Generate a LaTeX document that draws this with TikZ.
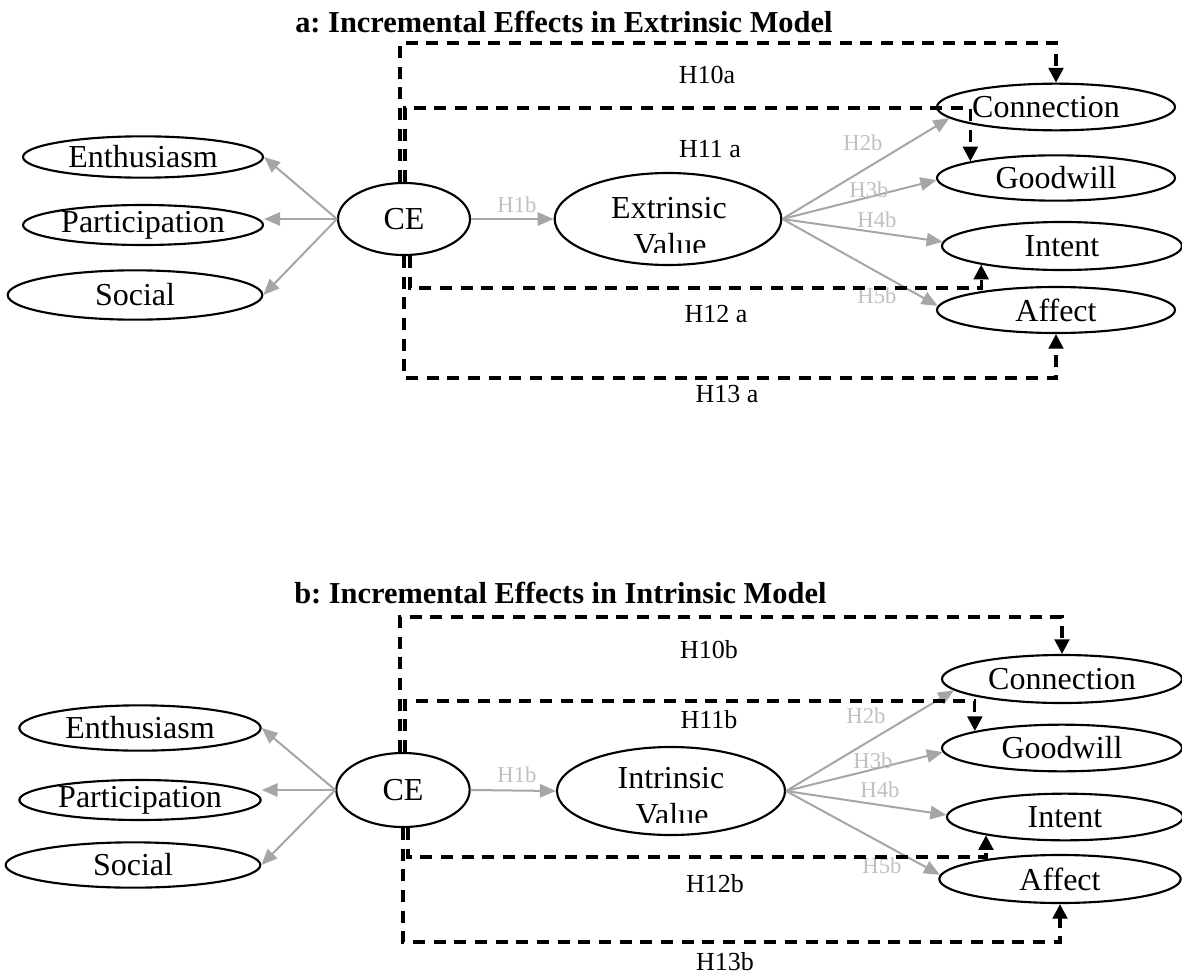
\documentclass[tikz,border=0pt]{standalone}
\usepackage{fontspec}
\setmainfont{Liberation Serif}
\usetikzlibrary{shapes.geometric,arrows.meta}
\frenchspacing

\definecolor{arrgray}{RGB}{166,166,166}
\definecolor{labgray}{RGB}{192,192,192}

\tikzset{
  ell/.style={draw, ellipse, line width=1.6pt, inner sep=0pt,
              font=\fontsize{24}{28}\selectfont},
  grayarr/.style={draw=arrgray, line width=1.5pt,
                  -{Triangle[length=12pt,width=10pt]}},
  hyp/.style={draw, line width=2.3pt, dash pattern=on 9pt off 6.5pt,
              -{Triangle[length=11pt,width=11pt]}},
  hlab/.style={anchor=base, inner sep=0pt, font=\fontsize{19.5}{22}\selectfont},
  glab/.style={anchor=base, inner sep=0pt, text=labgray,
               font=\fontsize{17}{20}\selectfont},
  vtext/.style={anchor=base, inner sep=0pt, font=\fontsize{24}{28}\selectfont},
  ttl/.style={anchor=base west, inner sep=0pt,
              font=\fontsize{22.8}{26}\selectfont\bfseries},
}

\begin{document}
\begin{tikzpicture}[x=0.75pt, y=-0.75pt]
\useasboundingbox (0,0) rectangle (1182,978);

% ---------------- panel a: extrinsic model ----------------
\node[ttl] (titleA) at (295,32) {a: Incremental Effects in Extrinsic Model};

\node[ell, minimum width=180pt, minimum height=31pt] (enA) at (143,157) {Enthusiasm};
\node[ell, minimum width=180pt, minimum height=30pt] (ptA) at (143,225) {Participation};
\node[ell, minimum width=191pt, minimum height=37pt] (soA) at (135,295) {Social};
\node[ell, minimum width=99pt, minimum height=54pt] (ceA) at (404,219) {CE};
\node[ell, minimum width=170pt, minimum height=69pt] (exA) at (668,219) {};
\node[vtext] (exA1) at (669,218) {Extrinsic};
\begin{scope}
  \clip (560,225) rectangle (780,252);
  \node[vtext] (exA2) at (670,255) {Value};
\end{scope}

\node[ell, minimum width=178.5pt, minimum height=35pt] (conA) at (1056,107) {\kern-15pt Connection};
\node[ell, minimum width=178.5pt, minimum height=34pt] (goodA) at (1056,178) {Goodwill};
\node[ell, minimum width=180pt, minimum height=36pt] (intA) at (1062,246) {Intent};
\node[ell, minimum width=178.5pt, minimum height=34.5pt] (affA) at (1056,310) {Affect};

% indicators and structural paths
\draw[grayarr] (ceA.west) -- (enA.east);
\draw[grayarr] (ceA.west) -- (ceA.west -| ptA.east);
\draw[grayarr] (ceA.west) -- (soA.east);
\draw[grayarr] (ceA.east) -- (exA.west);
\draw[grayarr] (exA.east) -- (conA.186);
\draw[grayarr] (exA.east) -- (goodA.181);
\draw[grayarr] (exA.east) -- (intA.178);
\draw[grayarr] (exA.east) -- (affA.178);

\node[glab] (h1bA) at (517,212) {H1b};
\node[glab] (h2bA) at (863,150) {H2b};
\node[glab] (h3bA) at (869,197) {H3b};
\node[glab] (h4bA) at (877,227) {H4b};
\node[glab] (h5bA) at (877,303) {H5b};

% incremental (direct) effects
\coordinate (t10a) at (400,43);
\coordinate (t11a) at (405,108);
\coordinate (t12a) at (410,288);
\coordinate (t13a) at (404,378);
\draw[hyp] (t10a |- ceA.north) -- (t10a) -| (conA.north);
\draw[hyp] (t11a |- ceA.north) -- (t11a) -| (goodA.169);
\draw[hyp] (t12a |- ceA.south) -- (t12a) -| (intA.193);
\draw[hyp] (t13a |- ceA.south) -- (t13a) -| (affA.south);

\node[hlab] (h10a) at (707,83) {H10a};
\node[hlab] (h11a) at (710,157) {H11 a};
\node[hlab] (h12a) at (716,322) {H12 a};
\node[hlab] (h13a) at (727,402) {H13 a};

% ---------------- panel b: intrinsic model ----------------
\node[ttl] (titleB) at (294,603) {b: Incremental Effects in Intrinsic Model};

\node[ell, minimum width=181pt, minimum height=34pt] (enB) at (140,728) {Enthusiasm};
\node[ell, minimum width=181pt, minimum height=30pt] (ptB) at (140,800) {Participation};
\node[ell, minimum width=191pt, minimum height=34pt] (soB) at (133,865) {Social};
\node[ell, minimum width=100pt, minimum height=55.5pt] (ceB) at (403,790) {CE};
\node[ell, minimum width=171pt, minimum height=66pt] (inB) at (671,791) {};
\node[vtext] (inB1) at (671,788) {Intrinsic};
\begin{scope}
  \clip (560,795) rectangle (785,822);
  \node[vtext] (inB2) at (672,825) {Value};
\end{scope}

\node[ell, minimum width=180pt, minimum height=36pt] (conB) at (1062,679) {Connection};
\node[ell, minimum width=180pt, minimum height=35pt] (goodB) at (1062,748) {Goodwill};
\node[ell, minimum width=177pt, minimum height=35pt] (intB) at (1065,817) {Intent};
\node[ell, minimum width=181pt, minimum height=36pt] (affB) at (1060,879) {Affect};

\draw[grayarr] (ceB.west) -- (enB.east);
\draw[grayarr] (ceB.west) -- (ceB.west -| ptB.east);
\draw[grayarr] (ceB.west) -- (soB.east);
\draw[grayarr] (ceB.east) -- (inB.west);
\draw[grayarr] (inB.east) -- (conB.186);
\draw[grayarr] (inB.east) -- (goodB.182);
\draw[grayarr] (inB.east) -- (intB.179);
\draw[grayarr] (inB.east) -- (affB.178);

\node[glab] (h1bB) at (517,782) {H1b};
\node[glab] (h2bB) at (866,723) {H2b};
\node[glab] (h3bB) at (873,768) {H3b};
\node[glab] (h4bB) at (880,797) {H4b};
\node[glab] (h5bB) at (882,873) {H5b};

\coordinate (t10b) at (400,617);
\coordinate (t11b) at (405,701);
\coordinate (t12b) at (408,857);
\coordinate (t13b) at (403,942);
\draw[hyp] (t10b |- ceB.north) -- (t10b) -| (conB.north);
\draw[hyp] (t11b |- ceB.north) -- (t11b) -| (goodB.169);
\draw[hyp] (t12b |- ceB.south) -- (t12b) -| (intB.193);
\draw[hyp] (t13b |- ceB.south) -- (t13b) -| (affB.south);

\node[hlab] (h10b) at (709,658) {H10b};
\node[hlab] (h11b) at (709,728) {H11b};
\node[hlab] (h12b) at (715,892) {H12b};
\node[hlab] (h13b) at (725,970) {H13b};
\end{tikzpicture}
\end{document}
